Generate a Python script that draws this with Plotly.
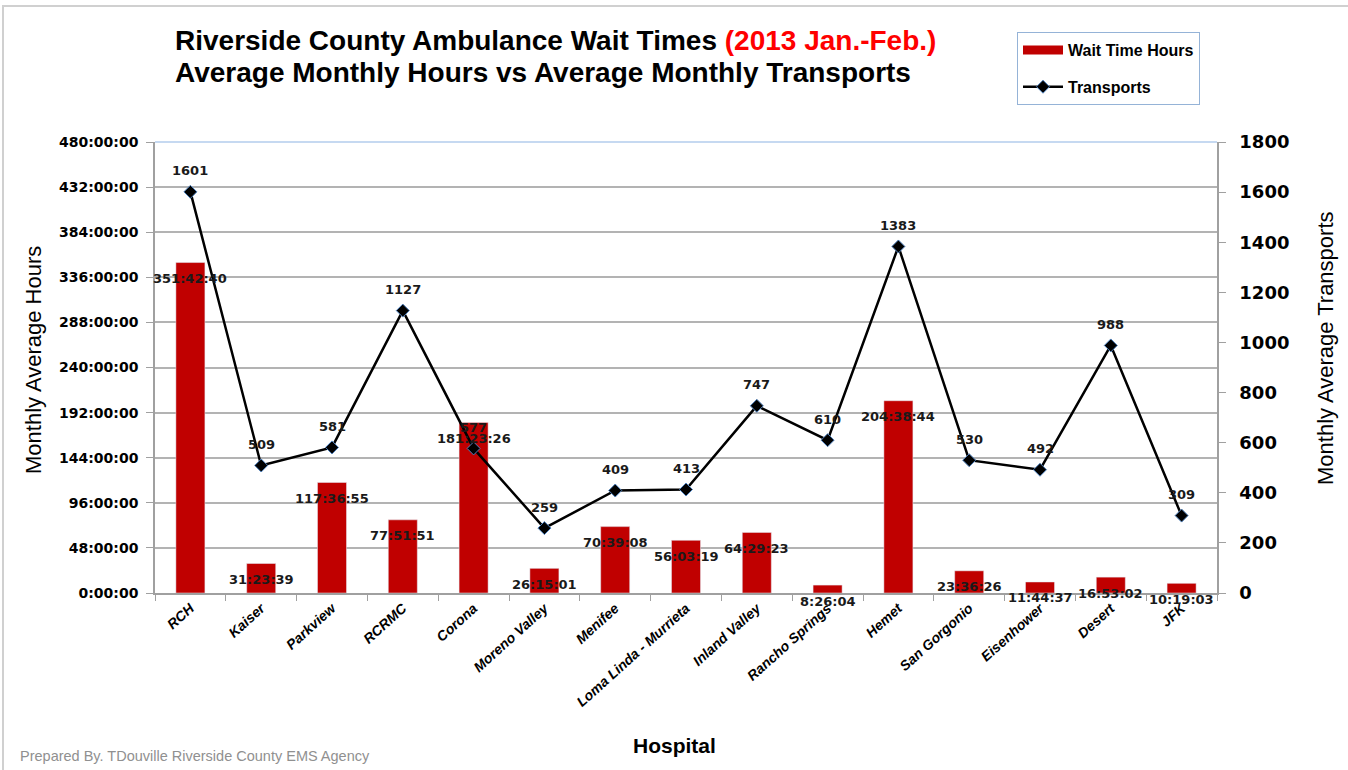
import plotly.graph_objects as go

hospitals = ["RCH", "Kaiser", "Parkview", "RCRMC", "Corona", "Moreno Valley", "Menifee",
             "Loma Linda - Murrieta", "Inland Valley", "Rancho Springs", "Hemet",
             "San Gorgonio", "Eisenhower", "Desert", "JFK"]
wait_times = ["351:42:40", "31:23:39", "117:36:55", "77:51:51", "181:23:26", "26:15:01",
              "70:39:08", "56:03:19", "64:29:23", "8:26:04", "204:38:44", "23:36:26",
              "11:44:37", "16:53:02", "10:19:03"]
transports = [1601, 509, 581, 1127, 577, 259, 409, 413, 747, 610, 1383, 530, 492, 988, 309]
left_ticks_hours = [0, 48, 96, 144, 192, 240, 288, 336, 384, 432, 480]
right_ticks = [0, 200, 400, 600, 800, 1000, 1200, 1400, 1600, 1800]


def to_hours(s):
    h, m, sec = (int(p) for p in s.split(":"))
    return h + m / 60 + sec / 3600


wait_hours = [to_hours(s) for s in wait_times]

W, H = 1348, 770
L, R, T, B = 155, 1217, 142, 593


def px(x):
    return (x - L) / (R - L)


def py(y):
    return (B - y) / (B - T)


label_font = dict(family="DejaVu Sans", size=13, color="#1a1a1a", weight="bold")

fig = go.Figure()
fig.add_trace(go.Bar(
    x=hospitals, y=wait_hours, name="Wait Time Hours",
    marker=dict(color="#c00000"), width=0.41, showlegend=False,
    hoverinfo="skip"))
# legend proxy giving the wide red rectangle of the original legend
fig.add_trace(go.Scatter(
    x=[None], y=[None], name="Wait Time Hours", mode="lines",
    line=dict(color="#c00000", width=9), legendgroup="a"))
fig.add_trace(go.Scatter(
    x=hospitals, y=transports, name="Transports", yaxis="y2",
    mode="lines+markers", legendgroup="b",
    line=dict(color="black", width=2.5),
    marker=dict(symbol="diamond", size=10, color="black",
                line=dict(color="#4f81bd", width=1)),
    hoverinfo="skip"))

annotations = []
for h, wh, ws in zip(hospitals, wait_hours, wait_times):
    annotations.append(dict(x=h, y=wh, xref="x", yref="y", text=ws, showarrow=False,
                            yshift=-16, font=label_font))
for h, t in zip(hospitals, transports):
    annotations.append(dict(x=h, y=t, xref="x", yref="y2", text=str(t), showarrow=False,
                            yshift=21, font=label_font))

title_font = dict(family="Liberation Sans", size=28, color="black", weight="bold")
annotations += [
    dict(xref="paper", yref="paper", x=px(173), y=py(40), xanchor="left", yanchor="middle",
         showarrow=False, font=title_font,
         text="Riverside County Ambulance Wait Times <span style='color:#ff0000'>(2013 Jan.-Feb.)</span>"),
    dict(xref="paper", yref="paper", x=px(173), y=py(73), xanchor="left", yanchor="middle",
         showarrow=False, font=title_font,
         text="Average Monthly Hours vs Average Monthly Transports"),
    dict(xref="paper", yref="paper", x=px(33), y=py(360), xanchor="center", yanchor="middle",
         showarrow=False, textangle=-90,
         font=dict(family="Liberation Sans", size=22, color="black"),
         text="Monthly Average Hours"),
    dict(xref="paper", yref="paper", x=px(1325), y=py(348), xanchor="center", yanchor="middle",
         showarrow=False, textangle=-90,
         font=dict(family="Liberation Sans", size=22, color="black"),
         text="Monthly Average Transports"),
    dict(xref="paper", yref="paper", x=px(674), y=py(745), xanchor="center", yanchor="middle",
         showarrow=False,
         font=dict(family="Liberation Sans", size=21, color="black", weight="bold"),
         text="Hospital"),
    dict(xref="paper", yref="paper", x=px(18), y=py(756), xanchor="left", yanchor="middle",
         showarrow=False,
         font=dict(family="Liberation Sans", size=14.5, color="#909090"),
         text="Prepared By. TDouville Riverside County EMS Agency"),
]

shapes = [
    dict(type="rect", xref="paper", yref="paper", x0=px(3), x1=px(1360), y0=py(790), y1=py(6),
         line=dict(color="#d0d0d0", width=2), layer="below"),
    dict(type="line", xref="paper", yref="paper", x0=0, x1=1, y0=1, y1=1,
         line=dict(color="#c6d9f1", width=2)),
]

fig.update_layout(
    width=W, height=H,
    margin=dict(l=L, r=W - R, t=T, b=H - B, autoexpand=False),
    paper_bgcolor="white", plot_bgcolor="white",
    bargap=0.59,
    showlegend=True,
    legend=dict(x=px(1017), y=py(32), xanchor="left", yanchor="top",
                bordercolor="#95b3d7", borderwidth=1, bgcolor="white",
                font=dict(family="Liberation Sans", size=16, color="black", weight="bold"),
                tracegroupgap=13, itemwidth=40),
    xaxis=dict(
        type="category", showgrid=False, showline=True, linecolor="#a0a0a0", linewidth=1.5,
        ticks="outside", ticklen=6, tickcolor="#a0a0a0", tickson="boundaries",
        tickangle=-42,
        tickfont=dict(family="Liberation Sans", size=14, color="black", weight="bold",
                      style="italic"),
        range=[-0.5, len(hospitals) - 0.5]),
    yaxis=dict(
        range=[0, 480], tickmode="array", tickvals=left_ticks_hours,
        ticktext=[f"{v}:00:00" for v in left_ticks_hours],
        showgrid=True, gridcolor="#b3b3b3", gridwidth=1.5,
        showline=True, linecolor="#a0a0a0", linewidth=1.5,
        ticks="outside", ticklen=7, tickcolor="#a0a0a0", ticklabelstandoff=5,
        tickfont=dict(family="DejaVu Sans", size=14, color="black", weight="bold"),
        zeroline=False),
    yaxis2=dict(
        overlaying="y", side="right", range=[0, 1800], tickmode="array",
        tickvals=right_ticks, ticktext=[str(v) for v in right_ticks],
        showgrid=False, showline=True, linecolor="#a0a0a0", linewidth=1.5,
        ticks="outside", ticklen=7, tickcolor="#a0a0a0", ticklabelstandoff=10,
        tickfont=dict(family="DejaVu Sans", size=18, color="black", weight="bold"),
        zeroline=False),
    annotations=annotations,
    shapes=shapes,
)

fig.write_html("out.html", config={"displayModeBar": False},
               post_script="document.body.style.margin='0';")
